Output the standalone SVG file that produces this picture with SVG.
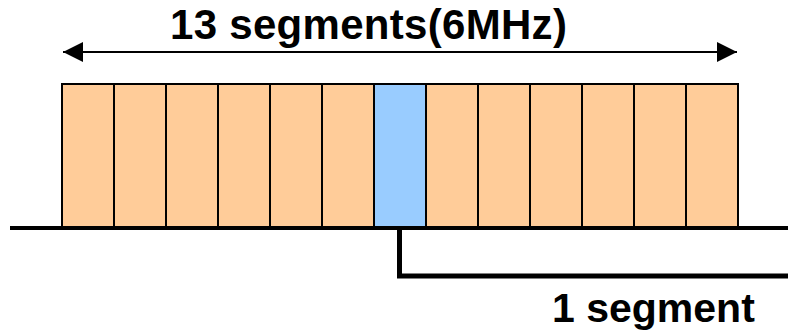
<svg xmlns="http://www.w3.org/2000/svg" width="788" height="332" viewBox="0 0 788 332">
  <style>
    .seg { fill: #FFCC99; stroke: #000; stroke-width: 2; }
    .seg.sel { fill: #99CCFF; }
    .lbl { font-family: "Liberation Sans", Arial, sans-serif; font-weight: bold; fill: #000; }
    .wire { stroke: #000; fill: none; }
  </style>
  <defs>
    <marker id="head" viewBox="0 0 20 20" refX="20" refY="10" markerWidth="20" markerHeight="20" markerUnits="userSpaceOnUse" orient="auto-start-reverse">
      <path d="M0,0 L20,10 L0,20 Z" fill="#000"/>
    </marker>
  </defs>

  <rect width="788" height="332" fill="#fff"/>

  <!-- channel segments -->
  <g id="segments">
    <rect id="seg1" class="seg" x="62" y="84" width="52" height="143"/>
    <rect id="seg2" class="seg" x="114" y="84" width="52" height="143"/>
    <rect id="seg3" class="seg" x="166" y="84" width="52" height="143"/>
    <rect id="seg4" class="seg" x="218" y="84" width="52" height="143"/>
    <rect id="seg5" class="seg" x="270" y="84" width="52" height="143"/>
    <rect id="seg6" class="seg" x="322" y="84" width="52" height="143"/>
    <rect id="seg7" class="seg sel" x="374" y="84" width="52" height="143"/>
    <rect id="seg8" class="seg" x="426" y="84" width="52" height="143"/>
    <rect id="seg9" class="seg" x="478" y="84" width="52" height="143"/>
    <rect id="seg10" class="seg" x="530" y="84" width="52" height="143"/>
    <rect id="seg11" class="seg" x="582" y="84" width="52" height="143"/>
    <rect id="seg12" class="seg" x="634" y="84" width="52" height="143"/>
    <rect id="seg13" class="seg" x="686" y="84" width="52" height="143"/>
  </g>

  <!-- connectors -->
  <g id="connectors">
    <line class="wire" x1="63" y1="52" x2="737" y2="52" stroke-width="2" marker-start="url(#head)" marker-end="url(#head)"/>
    <line class="wire" x1="10" y1="228" x2="788" y2="228" stroke-width="4"/>
    <polyline class="wire" points="399.5,228 399.5,276 788,276" stroke-width="5"/>
  </g>

  <g id="labels">
    <text class="lbl" x="170" y="39" font-size="42" letter-spacing="0.3">13 segments(6MHz)</text>
    <text class="lbl" x="552" y="322" font-size="41">1 segment</text>
  </g>
</svg>
